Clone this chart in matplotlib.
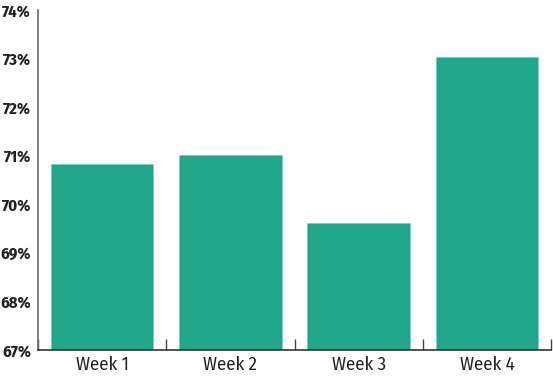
import matplotlib
matplotlib.use("Agg")
import matplotlib.pyplot as plt
from matplotlib import font_manager as fm
from matplotlib.ticker import FixedLocator, FuncFormatter

categories = ["Week 1", "Week 2", "Week 3", "Week 4"]
values = [70.82, 71.02, 69.62, 73.04]
y_ticks = [67, 68, 69, 70, 71, 72, 73, 74]

names = {f.name for f in fm.fontManager.ttflist}
fam = "DejaVu Sans"
for cand in ["Fira Sans Condensed", "PT Sans Narrow", "Asap Condensed",
             "Barlow Semi Condensed", "Archivo Narrow"]:
    if cand in names:
        fam = cand
        break

fig = plt.figure(figsize=(5.53, 3.80), dpi=100)
ax = fig.add_axes([38/553, 1 - 350/380, 513/553, 340/380])

ax.bar(range(len(categories)), values, width=0.8, bottom=0,
       color="#21a68a", edgecolor="#7fd0bd", linewidth=0.6, zorder=2)
ax.set_xlim(-0.5, 3.5)
ax.set_ylim(67, 74)

ax.set_yticks(y_ticks)
ax.yaxis.set_major_formatter(FuncFormatter(lambda v, p: f"{int(v)}%"))
ax.set_xticks(range(len(categories)))
ax.set_xticklabels(categories)
ax.xaxis.set_minor_locator(FixedLocator([-0.5, 0.5, 1.5, 2.5, 3.5]))

for s in ["top", "right"]:
    ax.spines[s].set_visible(False)
ax.spines["left"].set_color("#6b6b6b")
ax.spines["left"].set_linewidth(1.2)
ax.spines["bottom"].set_color("#333333")
ax.spines["bottom"].set_linewidth(1.2)

ax.tick_params(axis="y", length=0, pad=5)
ax.tick_params(axis="x", which="major", length=0, pad=4)
ax.tick_params(axis="x", which="minor", direction="in", length=8, width=1, color="#444444")

for lab in ax.get_yticklabels():
    lab.set_fontfamily(fam)
    lab.set_fontweight("bold")
    lab.set_fontsize(12)
    lab.set_color("#222222")
for lab in ax.get_xticklabels():
    lab.set_fontfamily(fam)
    lab.set_fontsize(13.5)
    lab.set_color("#222222")

fig.savefig("out.png", dpi=100)
